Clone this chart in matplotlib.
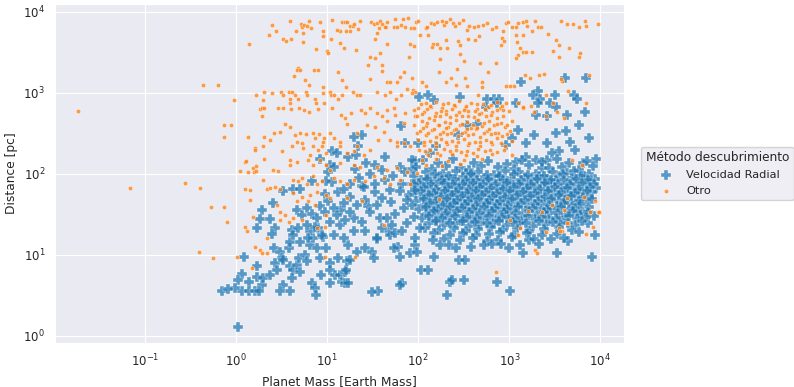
import numpy as np
import pandas as pd
import matplotlib
matplotlib.use('Agg')
import matplotlib.pyplot as plt
import seaborn as sns

# values, as (log10 mass, log10 distance)
# --- Otro ---
otro_outliers = [(-1.73, 2.78), (-1.16, 1.83), (-0.56, 1.89), (-0.40, 1.83), (-0.36, 3.10), (-0.20, 3.10),
                 (-0.02, 2.91), (-0.13, 2.60), (-0.05, 2.60), (-0.13, 2.46), (0.13, 2.46), (0.14, 3.60),
                 (-0.41, 1.04), (-0.25, 0.96), (-0.27, 1.59), (-0.13, 1.59), (-0.10, 1.41), (0.01, 0.98),
                 (0.10, 2.15), (0.13, 2.02), (0.19, 2.07), (0.20, 2.02), (0.21, 2.32), (0.31, 2.46),
                 (0.30, 2.91), (0.26, 2.80), (0.28, 2.72)]

otro_top_a = [(0.59, 3.89), (0.39, 3.84), (0.44, 3.76), (0.36, 3.72), (0.51, 3.67), (0.55, 3.64), (0.60, 3.67),
              (0.66, 3.77), (0.71, 3.85), (0.72, 3.81), (0.75, 3.84), (0.78, 3.83), (0.80, 3.89), (0.82, 3.80),
              (0.92, 3.88), (0.74, 3.74), (0.74, 3.63), (0.95, 3.77), (0.96, 3.70), (1.05, 3.90), (1.16, 3.87),
              (1.20, 3.87), (1.22, 3.87), (1.25, 3.83), (1.28, 3.83), (1.30, 3.85), (1.36, 3.89), (1.34, 3.79),
              (1.25, 3.77), (1.21, 3.76), (1.14, 3.77), (1.11, 3.78), (1.04, 3.67), (1.14, 3.62), (1.18, 3.55),
              (1.32, 3.53), (1.48, 3.88), (1.51, 3.85), (1.55, 3.86), (1.58, 3.89), (1.60, 3.85), (1.66, 3.88),
              (1.65, 3.82), (1.57, 3.80), (1.55, 3.74), (1.53, 3.67), (1.64, 3.82), (1.73, 3.81), (1.75, 3.91),
              (1.77, 3.82), (1.81, 3.84), (1.83, 3.91), (1.85, 3.82), (1.89, 3.92), (1.92, 3.80), (1.95, 3.80),
              (1.98, 3.88), (1.66, 3.61), (1.91, 3.61), (1.95, 3.58), (1.47, 3.44), (1.53, 3.43), (1.58, 3.49),
              (1.90, 3.44), (0.88, 3.54), (1.00, 3.52), (1.01, 3.49), (0.68, 3.31), (0.67, 3.28),
              (0.70, 3.28), (0.64, 3.21), (0.86, 3.28), (0.90, 3.28), (0.76, 3.16), (0.80, 3.10), (0.95, 3.07),
              (1.12, 3.26), (1.16, 3.16), (1.21, 3.07), (1.45, 3.35), (1.60, 3.35), (1.60, 3.27), (1.47, 3.17),
              (1.66, 3.13), (1.69, 3.14), (1.80, 3.20), (1.84, 3.26), (1.93, 3.19), (1.77, 3.13), (1.88, 3.05),
              (1.94, 3.04), (1.97, 3.01)]

otro_top_b = [(2.00, 3.89), (2.08, 3.80), (2.10, 3.82), (2.14, 3.86), (2.17, 3.85), (2.21, 3.87), (2.26, 3.89),
              (2.28, 3.84), (2.31, 3.87), (2.35, 3.91), (2.38, 3.86), (2.40, 3.83), (2.45, 3.86), (2.49, 3.90),
              (2.54, 3.78), (2.56, 3.83), (2.61, 3.81), (2.66, 3.83), (2.71, 3.84), (2.75, 3.86), (2.81, 3.79),
              (2.85, 3.82), (2.93, 3.77), (2.96, 3.86), (2.99, 3.88), (3.03, 3.81), (3.07, 3.82), (3.10, 3.86),
              (3.15, 3.88), (3.18, 3.89), (3.19, 3.83), (3.25, 3.77), (3.28, 3.89), (3.31, 3.82), (3.35, 3.81),
              (3.43, 3.73), (3.57, 3.89), (3.63, 3.85), (3.70, 3.85), (3.77, 3.81), (3.83, 3.89), (3.84, 3.83),
              (3.97, 3.85), (2.11, 3.72), (2.02, 3.72), (2.16, 3.60), (2.15, 3.57), (2.21, 3.60), (2.24, 3.55),
              (2.32, 3.55), (2.30, 3.66), (2.44, 3.64), (2.46, 3.59), (2.55, 3.67), (2.62, 3.66), (2.67, 3.70),
              (2.92, 3.68), (2.91, 3.59), (2.94, 3.64), (3.07, 3.71), (3.15, 3.72), (3.08, 3.63), (3.12, 3.55),
              (3.15, 3.51), (3.18, 3.51), (3.09, 3.47), (3.07, 3.43), (3.25, 3.51), (3.51, 3.65), (3.54, 3.59),
              (3.66, 3.56), (3.48, 3.52), (3.55, 3.45), (3.76, 3.44), (3.78, 3.49), (2.46, 3.48), (2.24, 3.42),
              (2.43, 3.30), (2.50, 3.40), (2.68, 3.37), (2.85, 3.37), (2.77, 3.26), (2.23, 3.26), (2.36, 3.18),
              (2.51, 3.19), (3.17, 3.22), (3.23, 3.18), (3.33, 3.22), (3.38, 3.24), (3.58, 3.15), (3.57, 3.17),
              (3.87, 3.22), (2.04, 3.14), (2.08, 3.08), (2.30, 3.13), (2.42, 3.10), (2.54, 3.08), (2.70, 3.13),
              (2.70, 3.07), (3.01, 3.08), (3.05, 3.08), (2.96, 3.09), (2.66, 2.98), (3.64, 3.03), (3.84, 2.88),
              (3.48, 2.88), (3.40, 2.97)]

otro_mid_left = [(0.22, 2.97), (0.31, 3.01), (0.39, 3.00), (0.49, 3.01), (0.52, 2.98), (0.58, 3.01), (0.61, 3.01),
                 (0.59, 2.93), (0.65, 2.97), (0.68, 2.93), (0.77, 3.01), (0.78, 2.98), (0.87, 2.93), (0.95, 3.00),
                 (1.03, 3.01), (1.04, 2.97), (1.08, 2.97), (1.12, 2.93), (1.16, 2.97), (1.28, 3.01), (1.33, 2.97),
                 (1.36, 2.97), (1.55, 3.01), (1.63, 2.97), (1.69, 3.01), (1.76, 2.93), (1.81, 2.98), (1.93, 3.00),
                 (0.28, 2.82), (0.31, 2.82), (0.46, 2.82), (0.51, 2.82), (0.59, 2.87), (0.60, 2.80), (0.69, 2.82),
                 (0.75, 2.79), (0.80, 2.77), (0.88, 2.87), (0.90, 2.80), (0.97, 2.87), (1.05, 2.82), (1.15, 2.73),
                 (1.20, 2.69), (1.22, 2.62), (1.26, 2.75), (1.37, 2.79), (1.42, 2.75), (1.47, 2.82), (1.55, 2.75),
                 (1.60, 2.71), (1.66, 2.79), (1.73, 2.81), (1.75, 2.73), (1.85, 2.75), (1.95, 2.79), (1.97, 2.71),
                 (0.54, 2.62), (0.59, 2.58), (0.48, 2.52), (0.42, 2.50), (0.65, 2.48), (0.70, 2.50), (0.77, 2.49),
                 (0.85, 2.50), (0.87, 2.44), (0.91, 2.49), (0.97, 2.44), (0.96, 2.39), (1.03, 2.50), (1.07, 2.44),
                 (1.14, 2.40), (0.37, 2.42), (0.30, 2.34), (0.21, 2.30), (0.50, 2.28), (0.61, 2.34), (0.67, 2.40),
                 (0.72, 2.38), (0.74, 2.32), (0.81, 2.23), (0.85, 2.34), (0.90, 2.30), (0.94, 2.34), (0.99, 2.26),
                 (1.14, 2.34), (1.22, 2.26), (1.29, 2.28), (1.33, 2.34), (1.40, 2.23), (1.47, 2.30), (1.56, 2.42),
                 (1.62, 2.52), (1.69, 2.42), (1.77, 2.40), (1.77, 2.34), (1.84, 2.38), (1.91, 2.34), (1.99, 2.50),
                 (1.33, 2.50), (1.44, 2.60), (1.53, 2.58), (1.66, 2.65), (1.84, 2.63), (1.95, 2.60), (0.11, 2.16),
                 (0.22, 2.10), (0.22, 2.04), (0.31, 2.19), (0.41, 2.05), (0.46, 2.04), (0.59, 2.11), (0.59, 2.17),
                 (0.67, 2.15), (0.79, 2.17), (0.84, 2.11), (0.92, 2.17), (0.99, 2.11), (1.03, 2.05), (1.14, 2.13),
                 (1.29, 2.11), (1.36, 2.09), (1.55, 2.09), (1.66, 2.05), (1.77, 2.07), (1.88, 2.03), (1.99, 2.01),
                 (0.04, 2.04), (0.30, 1.93), (0.10, 1.81), (0.15, 1.80), (0.34, 1.82), (0.37, 1.83), (0.43, 1.84),
                 (0.48, 1.82), (0.63, 1.93), (0.68, 1.91), (0.72, 1.95), (0.78, 1.88), (0.85, 1.97), (0.89, 1.87),
                 (0.94, 1.91), (1.07, 1.95), (1.14, 1.91), (1.22, 1.87), (1.29, 1.93), (1.42, 1.91), (1.51, 1.97),
                 (1.62, 1.95), (1.69, 1.88), (1.80, 1.93), (1.91, 1.88), (0.89, 1.78), (0.99, 1.74), (0.63, 1.76),
                 (0.72, 1.72), (0.81, 1.74)]

otro_cluster = [(2.08, 2.88), (2.19, 2.89), (2.33, 2.87), (2.45, 2.90), (2.58, 2.88), (2.71, 2.86), (2.86, 2.89),
                (2.96, 2.87), (2.00, 2.82), (2.14, 2.83), (2.26, 2.81), (2.40, 2.84), (2.51, 2.82), (2.65, 2.80),
                (2.77, 2.83), (2.90, 2.81), (3.15, 2.82), (2.06, 2.77), (2.20, 2.75), (2.31, 2.78), (2.45, 2.76),
                (2.55, 2.78), (2.69, 2.75), (2.81, 2.77), (2.93, 2.79), (3.27, 2.76), (1.99, 2.71), (2.12, 2.69),
                (2.24, 2.72), (2.35, 2.70), (2.48, 2.72), (2.61, 2.70), (2.74, 2.71), (2.86, 2.69), (3.40, 2.71),
                (2.04, 2.65), (2.17, 2.66), (2.29, 2.64), (2.41, 2.66), (2.54, 2.64), (2.66, 2.67), (2.78, 2.65),
                (2.91, 2.63), (3.03, 2.65), (2.09, 2.59), (2.22, 2.60), (2.33, 2.58), (2.46, 2.60), (2.58, 2.57),
                (2.70, 2.59), (2.83, 2.61), (2.95, 2.58), (2.02, 2.53), (2.15, 2.54), (2.27, 2.52), (2.39, 2.54),
                (2.51, 2.52), (2.63, 2.55), (2.75, 2.53), (2.88, 2.51), (3.01, 2.53), (2.08, 2.48), (2.20, 2.46),
                (2.32, 2.49), (2.44, 2.47), (2.55, 2.48), (2.68, 2.46), (2.80, 2.49), (2.92, 2.47), (2.00, 2.42),
                (2.13, 2.41), (2.25, 2.43), (2.37, 2.41), (2.50, 2.43), (2.62, 2.40), (2.74, 2.42), (2.86, 2.44),
                (3.03, 2.41), (2.06, 2.36), (2.19, 2.35), (2.32, 2.37), (2.42, 2.35), (2.55, 2.36), (2.68, 2.34),
                (2.81, 2.37), (2.95, 2.35), (2.01, 2.30), (2.13, 2.29), (2.28, 2.31), (2.41, 2.30), (2.54, 2.28),
                (2.66, 2.31), (2.79, 2.29), (2.94, 2.30), (2.11, 2.24), (2.24, 2.23), (2.37, 2.25), (2.52, 2.24),
                (2.64, 2.22), (2.81, 2.25), (3.03, 2.24), (2.04, 2.17), (2.19, 2.18), (2.33, 2.16), (2.50, 2.17),
                (2.70, 2.18), (3.69, 2.17), (2.09, 2.11), (2.26, 2.10), (2.46, 2.12), (3.80, 2.11), (3.15, 2.83),
                (3.10, 2.88), (3.24, 2.84), (3.52, 2.77), (3.60, 2.69)]

otro_cluster_fill = [(2.03, 2.86), (2.13, 2.84), (2.27, 2.86), (2.39, 2.85), (2.52, 2.84), (2.64, 2.86), (2.80, 2.85),
                     (2.92, 2.84), (2.10, 2.80), (2.25, 2.78), (2.37, 2.80), (2.50, 2.79), (2.62, 2.78), (2.73, 2.80),
                     (2.87, 2.79), (3.00, 2.78), (2.04, 2.74), (2.18, 2.72), (2.30, 2.74), (2.41, 2.73), (2.55, 2.72),
                     (2.67, 2.74), (2.80, 2.73), (2.93, 2.72), (2.10, 2.63), (2.23, 2.61), (2.35, 2.63), (2.48, 2.62),
                     (2.60, 2.61), (2.72, 2.63), (2.86, 2.62), (2.98, 2.61), (2.05, 2.57), (2.17, 2.55), (2.30, 2.57),
                     (2.42, 2.56), (2.54, 2.55), (2.65, 2.57), (2.78, 2.56), (2.11, 2.51), (2.24, 2.49), (2.36, 2.51),
                     (2.48, 2.50), (2.60, 2.49), (2.72, 2.51), (2.84, 2.50), (2.97, 2.49), (2.06, 2.40), (2.19, 2.38),
                     (2.31, 2.40), (2.44, 2.39), (2.56, 2.38), (2.68, 2.40), (2.80, 2.39), (2.91, 2.38), (2.07, 2.28),
                     (2.21, 2.26), (2.35, 2.28), (2.47, 2.27), (2.60, 2.26), (2.73, 2.28), (2.87, 2.27)]

otro_right = [(2.23, 1.69), (3.01, 1.43), (3.12, 1.33), (3.10, 1.24), (2.85, 0.79), (3.28, 1.06), (3.30, 1.03),
              (3.40, 1.28), (3.54, 1.33), (3.58, 1.30), (3.64, 1.39), (3.84, 1.26), (3.92, 1.34), (3.89, 1.53),
              (3.97, 1.53), (3.94, 1.67), (3.82, 1.72), (3.63, 1.70), (3.47, 1.62), (3.60, 1.56), (3.36, 1.53),
              (3.20, 1.54), (3.56, 1.30), (3.99, 1.53), (3.63, 1.39)]

otro_low_left = [(0.15, 1.68), (0.19, 1.47), (0.10, 1.35), (0.12, 1.30), (0.21, 1.10), (0.26, 1.06), (0.28, 1.02),
                 (0.34, 1.02), (0.18, 0.84), (0.45, 1.62), (0.48, 1.53), (0.54, 1.49), (0.48, 1.43), (0.58, 1.41),
                 (0.63, 1.45), (0.67, 1.66), (0.72, 1.43), (0.79, 1.66), (0.87, 1.62), (0.89, 1.33), (0.98, 1.35),
                 (1.03, 1.70), (0.99, 1.49), (1.22, 1.70), (1.31, 0.98), (0.98, 0.98), (0.34, 1.21), (1.38, 1.66),
                 (1.62, 1.37)]

# --- Velocidad Radial ---
rv_upper = [(3.13, 3.13), (3.61, 3.19), (3.84, 3.19), (3.31, 3.02), (3.50, 2.97), (3.71, 2.97), (3.74, 2.93),
            (3.26, 2.97), (3.34, 2.93), (2.01, 2.95), (2.11, 2.97), (2.17, 2.91), (2.46, 2.95), (2.75, 2.93),
            (2.83, 2.93), (2.89, 2.93), (3.45, 2.88), (2.44, 2.48), (2.54, 2.60), (2.64, 2.62), (2.74, 2.83),
            (2.86, 2.88), (3.07, 2.88), (3.32, 2.88), (3.51, 2.83), (3.29, 2.73), (3.41, 2.71), (3.63, 2.73),
            (3.83, 2.77), (3.76, 2.60), (3.87, 2.44), (3.95, 2.18), (3.51, 2.50), (3.62, 2.53), (3.67, 2.40),
            (3.41, 2.38), (3.27, 2.48), (3.18, 2.38), (3.10, 2.54), (3.03, 2.44), (2.96, 2.36), (3.54, 2.28),
            (3.72, 2.30), (3.81, 2.13), (2.00, 2.38), (2.13, 2.26), (2.19, 2.35), (1.97, 2.16), (3.29, 2.17),
            (3.41, 2.17), (3.47, 2.26), (3.36, 2.07), (3.18, 2.21), (3.07, 2.15), (1.05, 2.28), (1.11, 2.26),
            (0.92, 2.18), (1.03, 2.11), (1.08, 2.09), (1.01, 2.03), (1.23, 2.21), (1.32, 2.23), (1.34, 2.34),
            (1.38, 2.48), (1.29, 2.45), (1.43, 2.14), (1.31, 2.06), (1.53, 2.11), (1.64, 2.21), (1.81, 2.59),
            (1.86, 2.38), (1.93, 2.17), (1.93, 2.06), (1.80, 2.09)]

rv_band = [(2.05, 2.17), (2.22, 2.13), (2.38, 2.18), (2.61, 2.14), (2.77, 2.16), (2.98, 2.12), (3.14, 2.17),
           (3.36, 2.15), (3.52, 2.19), (3.66, 2.13), (3.85, 2.16), (1.98, 2.09), (2.15, 2.06), (2.31, 2.10),
           (2.47, 2.07), (2.56, 2.05), (2.69, 2.10), (2.88, 2.08), (3.05, 2.06), (3.22, 2.11), (3.44, 2.07),
           (3.58, 2.09), (3.77, 2.05), (3.92, 2.10), (2.09, 2.03), (2.27, 2.00), (2.41, 2.04), (2.52, 2.01),
           (2.66, 2.03), (2.83, 1.99), (2.95, 2.04), (3.11, 2.02), (3.29, 2.00), (3.48, 2.03), (3.63, 2.01),
           (3.71, 2.04), (3.88, 2.00), (1.95, 1.97), (2.12, 1.95), (2.24, 1.98), (2.36, 1.94), (2.49, 1.96),
           (2.60, 1.98), (2.74, 1.95), (2.90, 1.97), (3.02, 1.94), (3.17, 1.96), (3.33, 1.98), (3.41, 1.94),
           (3.55, 1.97), (3.69, 1.95), (3.82, 1.97), (3.94, 1.94), (2.03, 1.92), (2.18, 1.90), (2.30, 1.92),
           (2.45, 1.89), (2.57, 1.91), (2.70, 1.93), (2.81, 1.90), (2.97, 1.91), (3.08, 1.89), (3.25, 1.92),
           (3.38, 1.90), (3.51, 1.92), (3.64, 1.89), (3.79, 1.91), (3.90, 1.93), (1.93, 1.87), (2.08, 1.85),
           (2.21, 1.87), (2.34, 1.84), (2.42, 1.86), (2.55, 1.88), (2.64, 1.85), (2.78, 1.87), (2.92, 1.84),
           (3.04, 1.86), (3.19, 1.88), (3.30, 1.85), (3.46, 1.87), (3.60, 1.84), (3.74, 1.86), (3.86, 1.88),
           (2.00, 1.82), (2.14, 1.80), (2.27, 1.82), (2.39, 1.79), (2.50, 1.81), (2.62, 1.83), (2.73, 1.80),
           (2.86, 1.82), (2.99, 1.79), (3.12, 1.81), (3.27, 1.83), (3.42, 1.80), (3.57, 1.82), (3.70, 1.79),
           (3.83, 1.81), (3.95, 1.83), (1.96, 1.77), (2.11, 1.75), (2.23, 1.77), (2.35, 1.74), (2.47, 1.76),
           (2.58, 1.78), (2.68, 1.75), (2.80, 1.77), (2.94, 1.74), (3.09, 1.76), (3.21, 1.78), (3.35, 1.75),
           (3.49, 1.77), (3.66, 1.74), (3.78, 1.76), (3.91, 1.78), (2.05, 1.72), (2.19, 1.70), (2.31, 1.72),
           (2.44, 1.69), (2.53, 1.71), (2.65, 1.73), (2.76, 1.70), (2.89, 1.72), (3.01, 1.69), (3.15, 1.71),
           (3.31, 1.73), (3.47, 1.70), (3.61, 1.72), (3.75, 1.69), (3.88, 1.71), (1.98, 1.67), (2.13, 1.65),
           (2.26, 1.67), (2.38, 1.64), (2.49, 1.66), (2.61, 1.68), (2.72, 1.65), (2.84, 1.67), (2.96, 1.64),
           (3.10, 1.66), (3.24, 1.68), (3.39, 1.65), (3.54, 1.67), (3.68, 1.64), (3.84, 1.66), (2.07, 1.62),
           (2.20, 1.60), (2.33, 1.62), (2.45, 1.59), (2.57, 1.61), (2.69, 1.63), (2.81, 1.60), (2.93, 1.62),
           (3.06, 1.59), (3.20, 1.61), (3.37, 1.63), (3.52, 1.60), (3.70, 1.62), (3.87, 1.59), (2.01, 1.57),
           (2.16, 1.55), (2.29, 1.57), (2.41, 1.54), (2.54, 1.56), (2.66, 1.58), (2.78, 1.55), (2.91, 1.57),
           (3.03, 1.54), (3.18, 1.56), (3.34, 1.58), (3.49, 1.55), (3.65, 1.57), (3.80, 1.54), (2.10, 1.51),
           (2.24, 1.49), (2.37, 1.51), (2.50, 1.48), (2.62, 1.50), (2.75, 1.52), (2.88, 1.49), (3.00, 1.51),
           (3.14, 1.48), (3.30, 1.50), (3.45, 1.52), (3.62, 1.49), (3.78, 1.51), (3.93, 1.48), (2.04, 1.45),
           (2.19, 1.43), (2.33, 1.45), (2.47, 1.42), (2.59, 1.44), (2.71, 1.46), (2.85, 1.43), (2.99, 1.45),
           (3.13, 1.42), (3.28, 1.44), (3.43, 1.46), (3.58, 1.43), (3.74, 1.45), (2.12, 1.39), (2.28, 1.37),
           (2.42, 1.39), (2.56, 1.36), (2.68, 1.38), (2.82, 1.40), (2.97, 1.37), (3.11, 1.39), (3.26, 1.36),
           (3.40, 1.38), (3.56, 1.40), (3.72, 1.37), (3.86, 1.39), (2.07, 1.33), (2.23, 1.31), (2.39, 1.33),
           (2.52, 1.30), (2.66, 1.32), (2.80, 1.34), (2.93, 1.31), (3.08, 1.33), (3.22, 1.30), (3.38, 1.32),
           (3.55, 1.34), (3.69, 1.31), (2.17, 1.27), (2.35, 1.25), (2.49, 1.27), (2.63, 1.24), (2.78, 1.26),
           (2.90, 1.28), (3.05, 1.25), (3.19, 1.27), (3.36, 1.24), (3.52, 1.26), (3.77, 1.28), (2.28, 1.20),
           (2.46, 1.18), (2.60, 1.21), (2.75, 1.17), (2.88, 1.19), (3.03, 1.22), (3.22, 1.18), (3.46, 1.20),
           (3.64, 1.17)]

rv_band_fill = [(2.18, 2.00), (2.34, 1.98), (2.58, 2.00), (2.75, 1.99), (2.89, 1.98), (3.05, 2.00), (3.21, 1.99),
                (3.38, 1.97), (3.59, 2.00), (3.79, 1.98), (2.10, 1.94), (2.26, 1.92), (2.40, 1.94), (2.52, 1.93),
                (2.64, 1.92), (2.77, 1.94), (2.93, 1.93), (3.13, 1.92), (3.30, 1.94), (3.46, 1.93), (3.60, 1.92),
                (3.73, 1.94), (3.86, 1.93), (2.01, 1.89), (2.14, 1.87), (2.28, 1.89), (2.38, 1.88), (2.49, 1.87),
                (2.60, 1.89), (2.71, 1.88), (2.85, 1.87), (2.98, 1.89), (3.11, 1.88), (3.24, 1.87), (3.39, 1.89),
                (3.53, 1.88), (3.67, 1.87), (3.80, 1.89), (3.93, 1.88), (2.06, 1.84), (2.20, 1.82), (2.33, 1.84),
                (2.45, 1.83), (2.56, 1.82), (2.68, 1.84), (2.80, 1.83), (2.93, 1.82), (3.05, 1.84), (3.19, 1.83),
                (3.34, 1.82), (3.50, 1.84), (3.63, 1.83), (3.77, 1.82), (3.89, 1.84), (2.03, 1.79), (2.17, 1.77),
                (2.29, 1.79), (2.41, 1.78), (2.53, 1.77), (2.63, 1.79), (2.74, 1.78), (2.87, 1.77), (3.01, 1.79),
                (3.15, 1.78), (3.28, 1.77), (3.42, 1.79), (3.57, 1.78), (3.72, 1.77), (3.85, 1.79), (2.12, 1.74),
                (2.25, 1.72), (2.37, 1.74), (2.48, 1.73), (2.59, 1.72), (2.70, 1.74), (2.82, 1.73), (2.95, 1.72),
                (3.08, 1.74), (3.23, 1.73), (3.39, 1.72), (3.54, 1.74), (3.68, 1.73), (3.81, 1.72), (2.06, 1.69),
                (2.19, 1.67), (2.32, 1.69), (2.43, 1.68), (2.55, 1.67), (2.66, 1.69), (2.78, 1.68), (2.90, 1.67),
                (3.03, 1.69), (3.17, 1.68), (3.31, 1.67), (3.46, 1.69), (3.61, 1.68), (3.76, 1.67), (3.91, 1.69),
                (2.13, 1.64), (2.27, 1.62), (2.39, 1.64), (2.51, 1.63), (2.63, 1.62), (2.75, 1.64), (2.87, 1.63),
                (2.99, 1.62), (3.13, 1.64), (3.28, 1.63), (3.44, 1.62), (3.60, 1.64), (3.78, 1.63), (2.09, 1.59),
                (2.22, 1.57), (2.35, 1.59), (2.48, 1.58), (2.60, 1.57), (2.72, 1.59), (2.84, 1.58), (2.97, 1.57),
                (3.10, 1.59), (3.26, 1.58), (3.41, 1.57), (3.57, 1.59), (3.72, 1.58), (2.17, 1.54), (2.30, 1.52),
                (2.43, 1.54), (2.56, 1.53), (2.68, 1.52), (2.81, 1.54), (2.94, 1.53), (3.07, 1.52), (3.22, 1.54),
                (3.38, 1.53), (3.53, 1.52), (3.70, 1.54), (3.86, 1.53), (2.12, 1.48), (2.26, 1.46), (2.40, 1.48),
                (2.53, 1.47), (2.65, 1.46), (2.78, 1.48), (2.92, 1.47), (3.06, 1.46), (3.21, 1.48), (3.36, 1.47),
                (3.51, 1.46), (3.66, 1.48), (3.84, 1.47), (2.20, 1.42), (2.35, 1.40), (2.49, 1.42), (2.62, 1.41),
                (2.75, 1.40), (2.89, 1.42), (3.04, 1.41), (3.18, 1.40), (3.33, 1.42), (3.48, 1.41), (3.64, 1.40),
                (3.80, 1.42)]

rv_mid = [(1.25, 1.72), (1.38, 1.85), (1.45, 1.60), (1.52, 1.78), (1.58, 1.45), (1.63, 1.92), (1.70, 1.65),
          (1.75, 1.50), (1.82, 1.88), (1.88, 1.40), (1.90, 1.74), (1.30, 1.45), (1.42, 1.30), (1.55, 1.20),
          (1.68, 1.30), (1.78, 1.10), (1.35, 1.95), (1.47, 2.00), (1.60, 2.05), (1.72, 1.98), (1.85, 2.02),
          (1.12, 1.78), (1.05, 1.90), (0.98, 1.75), (1.15, 1.55), (0.83, 1.91), (0.52, 1.79), (0.63, 1.82),
          (0.70, 1.82), (0.99, 1.91), (1.18, 1.81), (1.25, 1.87), (1.40, 1.84), (1.53, 1.88), (1.69, 1.80),
          (1.80, 1.79), (1.95, 1.87), (1.97, 1.80)]

rv_left = [(0.29, 1.56), (0.26, 1.44), (0.23, 1.33), (0.37, 1.44), (0.41, 1.64), (0.43, 1.33), (0.40, 1.26),
           (0.42, 1.09), (0.48, 1.04), (0.50, 0.96), (0.58, 1.09), (0.59, 1.16), (0.61, 1.31), (0.59, 0.86),
           (0.63, 0.82), (0.52, 0.63), (0.59, 0.55), (0.48, 0.55), (0.61, 0.71), (0.67, 0.88), (0.69, 0.96),
           (0.70, 0.79), (0.76, 1.00), (0.78, 0.92), (0.81, 1.12), (0.83, 0.65), (0.87, 0.59), (0.88, 0.51),
           (0.85, 1.21), (0.89, 1.08), (0.90, 1.33), (0.92, 0.96), (0.93, 0.75), (0.96, 1.22), (0.99, 1.08),
           (1.03, 0.90), (1.03, 0.82), (1.09, 0.75), (1.14, 0.75), (1.20, 0.79), (1.21, 0.82), (1.03, 0.65),
           (1.16, 0.66), (1.20, 0.65), (1.23, 0.65), (1.12, 0.96), (1.22, 0.92), (1.25, 0.94), (1.23, 1.12),
           (1.33, 1.04), (1.42, 1.08), (1.49, 1.04), (1.51, 0.96), (1.55, 1.21), (1.60, 1.33), (1.69, 1.25),
           (1.73, 1.08), (1.80, 0.98), (1.82, 0.65), (1.56, 0.55), (1.91, 1.02), (1.97, 1.12), (0.09, 0.98),
           (0.07, 0.77), (0.02, 0.69), (0.14, 0.67), (0.23, 0.73), (0.28, 0.63), (0.06, 0.55), (0.14, 0.55),
           (0.21, 0.55), (0.25, 0.55), (-0.01, 0.59), (0.02, 0.11), (-0.15, 0.56), (-0.09, 0.58), (0.23, 0.86),
           (0.30, 0.71), (0.37, 0.75), (0.43, 0.90), (0.45, 0.81), (0.52, 0.94), (0.67, 1.56), (0.72, 1.49),
           (0.78, 1.58), (0.83, 1.51), (0.89, 1.45), (0.92, 1.60), (0.98, 1.53), (1.01, 1.66), (1.03, 1.41),
           (1.07, 1.58), (1.11, 1.49), (1.14, 1.37), (1.18, 1.64), (1.20, 1.43), (1.25, 1.53), (1.29, 1.29),
           (1.33, 1.62), (1.38, 1.41), (1.42, 1.68), (1.47, 1.53), (1.55, 1.62), (1.60, 1.70), (1.66, 1.45),
           (1.71, 1.37), (1.75, 1.27), (1.82, 1.29), (1.84, 1.58), (1.93, 1.62), (1.95, 1.47), (1.88, 1.68),
           (0.81, 1.29), (0.87, 1.35), (0.94, 1.25), (1.07, 1.25), (1.18, 1.21), (0.79, 1.21), (0.70, 1.16),
           (0.78, 1.37), (0.68, 1.33), (0.63, 1.25)]

rv_low = [(1.99, 1.04), (2.17, 0.98), (2.03, 0.81), (2.45, 0.94), (2.51, 0.94), (2.35, 0.66), (2.50, 0.69),
          (2.32, 0.50), (2.86, 0.66), (3.01, 0.56), (3.52, 1.03), (3.91, 0.98), (3.15, 1.03), (2.24, 1.12),
          (2.34, 1.12), (2.42, 1.09), (2.58, 1.10), (2.72, 1.12), (2.81, 1.14), (2.91, 1.13), (3.00, 1.09),
          (3.12, 1.12), (3.27, 1.20), (3.33, 1.14), (3.60, 1.21), (3.94, 1.25), (1.97, 1.21), (2.02, 1.33),
          (2.16, 1.19), (1.49, 0.54), (1.80, 0.63), (2.37, 0.69), (2.11, 0.81)]

otro = np.array(otro_outliers + otro_top_a + otro_top_b + otro_mid_left + otro_cluster + otro_cluster_fill
                + otro_right + otro_low_left)
rv = np.array(rv_upper + rv_band + rv_band_fill + rv_mid + rv_left + rv_low)

sns.set_style('darkgrid')
fig = plt.figure(figsize=(7.94, 3.87), dpi=100)
ax = fig.add_axes([0.069, 0.114, 0.717, 0.876])

ax.scatter(10 ** rv[:, 0], 10 ** rv[:, 1], marker='P', s=46, color='#1f77b4', alpha=0.72,
           edgecolor='white', linewidths=0.35, label='Velocidad Radial')
ax.scatter(10 ** otro[:, 0], 10 ** otro[:, 1], marker='.', s=40, color='#ff7f0e', alpha=0.75,
           edgecolor='white', linewidths=0.35, label='Otro')

ax.set_xscale('log')
ax.set_yscale('log')
ax.set_xlim(10 ** -1.99, 10 ** 4.26)
ax.set_ylim(10 ** -0.086, 10 ** 4.1)
ax.set_xlabel('Planet Mass [Earth Mass]', fontsize=8.8)
ax.set_ylabel('Distance [pc]', fontsize=8.8)
ax.tick_params(labelsize=8.5)

ax.legend(title='Método descubrimiento', loc='center left', bbox_to_anchor=(1.02, 0.5),
          fontsize=8.2, title_fontsize=8.7)

fig.savefig('out.png', dpi=100)
